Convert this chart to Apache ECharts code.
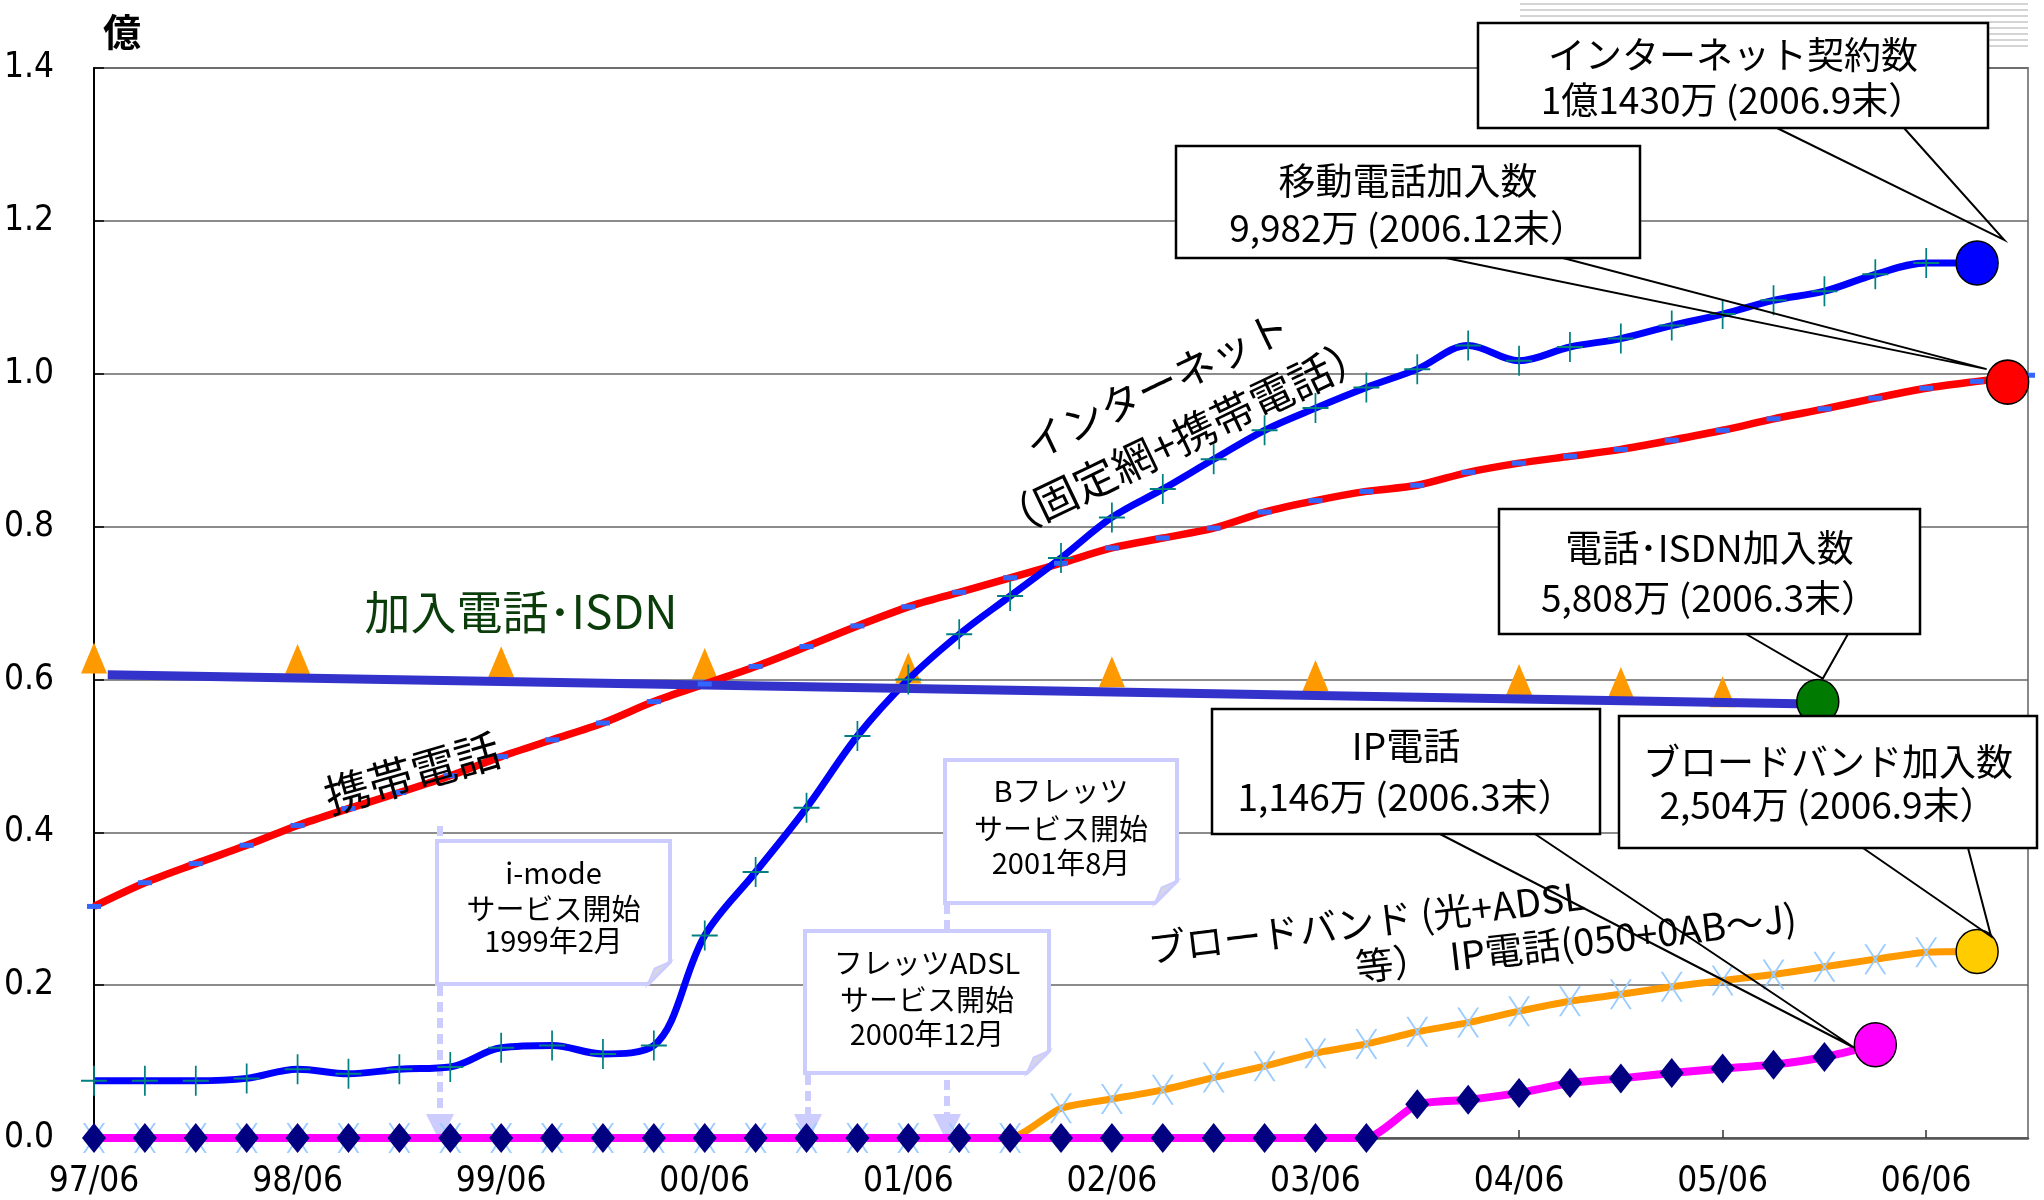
<!DOCTYPE html>
<html>
<head>
<meta charset="utf-8">
<title>インターネット・携帯電話・固定電話 加入数の推移</title>
<script src="https://cdn.jsdelivr.net/npm/echarts@6/dist/echarts.min.js"></script>
<style>
  html, body { margin: 0; padding: 0; background: #fff; }
  #main { width: 2044px; height: 1200px; }
</style>
</head>
<body>
<div id="main"></div>
<script>
// quarters, index 0 (97/06) .. 38 (06/12)
var quarters = ['97/06','97/09','97/12','98/03','98/06','98/09','98/12','99/03',
  '99/06','99/09','99/12','00/03','00/06','00/09','00/12','01/03',
  '01/06','01/09','01/12','02/03','02/06','02/09','02/12','03/03',
  '03/06','03/09','03/12','04/03','04/06','04/09','04/12','05/03',
  '05/06','05/09','05/12','06/03','06/06','06/09','06/12'];

// values in 億
var internet = [0.075, 0.075, 0.075, 0.078, 0.090, 0.084, 0.090, 0.093,
  0.118, 0.121, 0.110, 0.121, 0.265, 0.348, 0.432, 0.526,
  0.600, 0.659, 0.709, 0.759, 0.812, 0.849, 0.888, 0.926,
  0.955, 0.982, 1.006, 1.037, 1.017, 1.035, 1.046, 1.063,
  1.078, 1.096, 1.108, 1.130, 1.145, 1.145];
var mobile = [0.303, 0.334, 0.359, 0.383, 0.409, 0.431, 0.452, 0.474,
  0.499, 0.521, 0.543, 0.571, 0.594, 0.617, 0.643, 0.670,
  0.695, 0.714, 0.733, 0.752, 0.772, 0.785, 0.798, 0.819,
  0.834, 0.846, 0.854, 0.871, 0.883, 0.892, 0.901, 0.913,
  0.926, 0.941, 0.954, 0.968, 0.981, 0.990, 0.998];
var broadband = [0, 0, 0, 0, 0, 0, 0, 0, 0, 0, 0, 0, 0, 0, 0, 0, 0, 0, 0,
  0.039, 0.051, 0.063, 0.079, 0.094, 0.111, 0.123, 0.139, 0.151,
  0.166, 0.179, 0.188, 0.198, 0.206, 0.214, 0.224, 0.234, 0.243, 0.244];
var ipPhone = [0, 0, 0, 0, 0, 0, 0, 0, 0, 0, 0, 0, 0, 0, 0, 0, 0, 0, 0,
  0, 0, 0, 0, 0, 0, 0, 0.044, 0.050, 0.059, 0.072, 0.078, 0.085,
  0.091, 0.096, 0.106, 0.122];
var isdnIdx = [0, 4, 8, 12, 16, 20, 24, 28, 30, 32];
var isdnVal = [0.628, 0.626, 0.623, 0.621, 0.615, 0.610, 0.605, 0.600, 0.596, 0.584];
var isdnTrendIdx = [0.27, 33.77];
var isdnTrendVal = [0.606, 0.568];

// end dots: internet, mobile, isdn, ip phone, broadband
var dotIdx = [37, 37.6, 33.87, 35, 37];
var dotVal = [1.145, 0.989, 0.571, 0.122, 0.244];

var calloutText = [
  ['インターネット契約数', '1億1430万 (2006.9末）'],
  ['移動電話加入数', '9,982万 (2006.12末）'],
  ['電話･ISDN加入数', '5,808万 (2006.3末）'],
  ['IP電話', '1,146万 (2006.3末）'],
  ['ブロードバンド加入数', '2,504万 (2006.9末）']
];
var noteText = [
  ['i-mode', 'サービス開始', '1999年2月'],
  ['Bフレッツ', 'サービス開始', '2001年8月'],
  ['フレッツADSL', 'サービス開始', '2000年12月']
];

var JP = '"Noto Sans CJK JP", sans-serif';
var NARROW = '"Liberation Sans Narrow", "DejaVu Sans Condensed", sans-serif';

// [index, value] pairs; the last point's own marker is hidden under the end dot
function seq(vals, hideLast) {
  return vals.map(function (v, i) {
    if (hideLast && i === vals.length - 1) return { value: [i, v], symbol: 'none' };
    return [i, v];
  });
}
function pairs(xs, ys) {
  return xs.map(function (x, i) { return [x, ys[i]]; });
}

var plusSymbol = 'path://M0,14 L30,14 L30,16 L0,16 Z M14,0 L16,0 L16,30 L14,30 Z';
var crossSymbol = 'path://M0,0 L2,0 L20,30 L18,30 Z M18,0 L20,0 L2,30 L0,30 Z';
var dotColors = ['#0000ff', '#ff0000', '#007a00', '#ff00ff', '#ffcc00'];

var chart = echarts.init(document.getElementById('main'));

var option = {
  backgroundColor: '#fff',
  animation: false,
  grid: {
    left: 94, right: 16, top: 68, bottom: 62,
    show: true, borderColor: '#888', borderWidth: 2, backgroundColor: 'transparent'
  },
  xAxis: {
    type: 'value',
    min: 0, max: 38, interval: 4,
    axisLine: { lineStyle: { color: '#555', width: 2.5 } },
    axisTick: { inside: true, length: 8, lineStyle: { color: '#333', width: 1.5 } },
    splitLine: { show: false },
    axisLabel: {
      showMaxLabel: false,
      margin: 26,
      fontFamily: NARROW, fontSize: 35, color: '#000',
      formatter: function (v) { return v % 4 === 0 ? quarters[v] : ''; }
    }
  },
  yAxis: {
    type: 'value',
    min: 0, max: 1.4, interval: 0.2,
    axisLine: { show: true, lineStyle: { color: '#000', width: 2 } },
    axisTick: { show: true, inside: true, length: 10, lineStyle: { color: '#000', width: 1.5 } },
    splitLine: { lineStyle: { color: '#666', width: 1.5 } },
    axisLabel: {
      margin: 40,
      fontFamily: NARROW, fontSize: 35, color: '#000',
      formatter: function (v) { return v.toFixed(1); }
    }
  },
  series: [
    {
      name: '携帯電話', type: 'line', data: seq(mobile), smooth: 0.3,
      lineStyle: { color: '#ff0000', width: 7.5 },
      symbol: 'rect', symbolSize: [14, 5], itemStyle: { color: '#3366ff' }
    },
    {
      name: 'インターネット', type: 'line', data: seq(internet, true), smooth: 0.35,
      lineStyle: { color: '#0000ff', width: 7 },
      symbol: plusSymbol, symbolSize: [26, 30], itemStyle: { color: '#008080' }
    },
    {
      name: '加入電話・ISDN', type: 'scatter', data: pairs(isdnIdx, isdnVal),
      symbol: 'triangle', symbolSize: [26, 31], itemStyle: { color: '#ff9900', opacity: 1 }
    },
    {
      name: '加入電話・ISDN 傾向', type: 'line', data: pairs(isdnTrendIdx, isdnTrendVal),
      lineStyle: { color: '#3333cc', width: 9 }, symbol: 'none'
    },
    {
      name: 'ブロードバンド', type: 'line', data: seq(broadband, true), smooth: 0.2,
      lineStyle: { color: '#ff9900', width: 7 },
      symbol: crossSymbol, symbolSize: [22, 30], itemStyle: { color: '#99ccff' }
    },
    {
      name: 'IP電話', type: 'line', data: seq(ipPhone, true), smooth: 0.2,
      lineStyle: { color: '#ff00ff', width: 8 },
      symbol: 'diamond', symbolSize: [24, 30], itemStyle: { color: '#000080' }
    },
    {
      name: '最新値', type: 'scatter',
      data: pairs(dotIdx, dotVal).map(function (p, i) {
        return { value: p, itemStyle: { color: dotColors[i] } };
      }),
      symbol: 'circle', symbolSize: [42, 44],
      itemStyle: { borderColor: '#000', borderWidth: 1.5, opacity: 1 },
      z: 5
    }
  ]
};
chart.setOption(option);

// ---- annotations ----
var g = [];

// grey stripes top right
for (var s = 0; s < 8; s++) {
  g.push({ type: 'line', z: 50, shape: { x1: 1520, y1: 4 + s * 6, x2: 2028, y2: 4 + s * 6 },
    style: { stroke: '#d4d4d4', lineWidth: 2 } });
}

g.push({ type: 'text', z: 100, x: 122, y: 32,
  style: { text: '億', font: 'bold 38px ' + JP, fill: '#000', textAlign: 'center', textVerticalAlign: 'middle', align: 'center', verticalAlign: 'middle' } });

function label(text, cx, cy, deg, size, color) {
  g.push({ type: 'text', z: 100, x: cx, y: cy, rotation: deg * Math.PI / 180,
    style: { text: text, font: size + 'px ' + JP, fill: color || '#000',
      textAlign: 'center', textVerticalAlign: 'middle', align: 'center', verticalAlign: 'middle' } });
}
label('加入電話･ISDN', 521, 612, 0, 46, '#0b3d0b');
label('携帯電話', 412, 773, 16, 45);
label('インターネット', 1157, 385, 25.6, 41);
label('（固定網+携帯電話）', 1183, 437, 25.6, 43);
label('ブロードバンド (光+ADSL', 1366, 922, 7, 38);
label('等）　IP電話(050+0AB～J)', 1576, 942, 6.5, 38);

// light "note" boxes with dashed arrows
function note(box, lines, ys, arrowX, lineTop) {
  var x0 = box[0], y0 = box[1], x1 = box[2], y1 = box[3], f = 22;
  g.push({ type: 'line', z: 1, shape: { x1: arrowX, y1: lineTop, x2: arrowX, y2: 1116 },
    style: { stroke: '#ccccff', lineWidth: 6, lineDash: [10, 6] } });
  g.push({ type: 'polygon', z: 1, shape: { points: [[arrowX - 14, 1114], [arrowX + 14, 1114], [arrowX, 1142]] },
    style: { fill: '#ccccff' } });
  g.push({ type: 'polygon', z: 1,
    shape: { points: [[x0, y0], [x1, y0], [x1, y1 - f], [x1 - f, y1], [x0, y1]] },
    style: { fill: '#fff', stroke: '#ccccff', lineWidth: 4 } });
  g.push({ type: 'polygon', z: 1,
    shape: { points: [[x1, y1 - f], [x1 - f, y1], [x1 - f * 0.7, y1 - f * 0.7]] },
    style: { fill: '#d6d6e4', stroke: '#ccccff', lineWidth: 2 } });
  lines.forEach(function (t, i) {
    g.push({ type: 'text', z: 1, x: (x0 + x1) / 2, y: ys[i],
      style: { text: t, font: '29px ' + JP, fill: '#000',
        textAlign: 'center', textVerticalAlign: 'middle', align: 'center', verticalAlign: 'middle' } });
  });
}
note([945, 760, 1177, 903], noteText[1], [791, 829, 863], 947, 760);
note([437, 841, 670, 984], noteText[0], [873, 909, 941], 440, 826);
note([805, 931, 1049, 1073], noteText[2], [963, 1000, 1034], 808, 931);

// callouts pointing at the end dots
function callout(box, base, dot, off, lines, ys) {
  var p = chart.convertToPixel({ gridIndex: 0 }, dot);
  var tip = [p[0] + off[0], p[1] + off[1]];
  g.push({ type: 'polyline', z: 100,
    shape: { points: [[base[0], box[3]], tip, [base[1], box[3]]] },
    style: { stroke: '#000', lineWidth: 2, fill: null } });
  g.push({ type: 'rect', z: 101,
    shape: { x: box[0], y: box[1], width: box[2] - box[0], height: box[3] - box[1] },
    style: { fill: '#fff', stroke: '#000', lineWidth: 2.5 } });
  lines.forEach(function (t, i) {
    g.push({ type: 'text', z: 102, x: (box[0] + box[2]) / 2, y: ys[i],
      style: { text: t, font: '37px ' + JP, fill: '#000',
        textAlign: 'center', textVerticalAlign: 'middle', align: 'center', verticalAlign: 'middle' } });
  });
}
function dotAt(i) { return [dotIdx[i], dotVal[i]]; }
callout([1478, 23, 1988, 128], [1777, 1904], dotAt(0), [27, -23], calloutText[0], [55, 100]);
callout([1176, 146, 1640, 258], [1446, 1563], dotAt(1), [-21, -13], calloutText[1], [181, 228]);
callout([1499, 509, 1920, 634], [1746, 1848], dotAt(2), [5, -23], calloutText[2], [548, 598]);
callout([1212, 709, 1600, 834], [1440, 1535], dotAt(3), [-21, 3], calloutText[3], [746, 797]);
callout([1619, 716, 2037, 848], [1863, 1968], dotAt(4), [14, -15], calloutText[4], [762, 805]);

chart.setOption({ graphic: { elements: g } });
</script>
</body>
</html>
